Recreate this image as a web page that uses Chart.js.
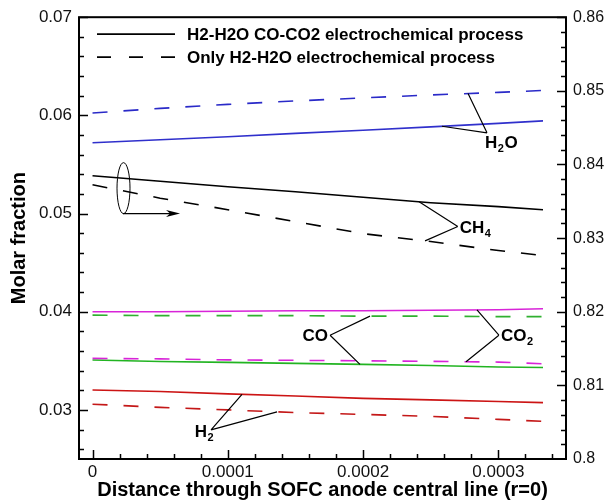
<!DOCTYPE html>
<html>
<head>
<meta charset="utf-8">
<script src="https://cdn.jsdelivr.net/npm/chart.js@4.4.0/dist/chart.umd.min.js"></script>
<style>
  html, body { margin: 0; padding: 0; background: #fff; }
</style>
</head>
<body>
<canvas id="molarChart" width="608" height="504"></canvas>
<script>
// distance through the anode central line (m)
const distance = [0, 0.00005, 0.0001, 0.00015, 0.0002, 0.00025, 0.0003, 0.000333];

// solid = H2-H2O CO-CO2 process, dashed = only H2-H2O process
const h2oSolid = [0.05721, 0.05751, 0.05782, 0.05817, 0.05848, 0.05883, 0.05919, 0.05944];
const h2oDash  = [0.06025, 0.06071, 0.06112, 0.06147, 0.06178, 0.06208, 0.06234, 0.06254];
// CH4 is read on the right axis
const ch4Solid = [0.83846, 0.83772, 0.83697, 0.83630, 0.83555, 0.83481, 0.83427, 0.83386];
const ch4Dash  = [0.83724, 0.83542, 0.83386, 0.83223, 0.83061, 0.82953, 0.82831, 0.82763];
const co2Solid = [0.04000, 0.04000, 0.04005, 0.04010, 0.04010, 0.04015, 0.04020, 0.04030];
const co2Dash  = [0.03525, 0.03520, 0.03510, 0.03505, 0.03500, 0.03495, 0.03487, 0.03470];
const coSolid  = [0.03508, 0.03493, 0.03484, 0.03474, 0.03464, 0.03452, 0.03437, 0.03432];
const coDash   = [0.03965, 0.03960, 0.03960, 0.03960, 0.03955, 0.03955, 0.03950, 0.03950];
const h2Solid  = [0.03203, 0.03188, 0.03163, 0.03142, 0.03117, 0.03102, 0.03086, 0.03074];
const h2Dash   = [0.03058, 0.03026, 0.03000, 0.02973, 0.02954, 0.02934, 0.02904, 0.02883];

// ticks
const xTicks = [0, 0.0001, 0.0002, 0.0003];
const xTickLabels = ['0', '0.0001', '0.0002', '0.0003'];
const leftTicks = [0.03, 0.04, 0.05, 0.06, 0.07];
const leftTickLabels = ['0.03', '0.04', '0.05', '0.06', '0.07'];
const rightTicks = [0.80, 0.81, 0.82, 0.83, 0.84, 0.85, 0.86];
const rightTickLabels = ['0.8', '0.81', '0.82', '0.83', '0.84', '0.85', '0.86'];

const legendLabels = ['H2-H2O CO-CO2 electrochemical process', 'Only H2-H2O electrochemical process'];

const DASH = [15, 16];

function series(label, values, color, dashed, axis) {
    return {
        label: label,
        data: distance.map((x, i) => ({ x: x, y: values[i] })),
        borderColor: color,
        borderWidth: 1.6,
        borderDash: dashed ? DASH : [],
        pointRadius: 0,
        tension: 0,
        yAxisID: axis || 'y'
    };
}

function interp(values, xv) {
    for (let i = 0; i < distance.length - 1; i++) {
        if (xv >= distance[i] && xv <= distance[i + 1]) {
            let t = (xv - distance[i]) / (distance[i + 1] - distance[i]);
            return values[i] + t * (values[i + 1] - values[i]);
        }
    }
    return values[values.length - 1];
}

// callout labels: vertex in data units (left axis), leader lines to the curves
const callouts = [
    { parts: [['H', 0], ['2', 1], ['O', 0]], vx: 0.0002916, vy: 0.05822, align: 'left', dx: -2, dy: 15,
      ends: [[h2oDash, 0.0002776, 'y'], [h2oSolid, 0.0002583, 'y']] },
    { parts: [['CH', 0], ['4', 1]], vx: 0.000270, vy: 0.04868, align: 'left', dx: 2, dy: 6,
      ends: [[ch4Solid, 0.0002414, 'y2'], [ch4Dash, 0.0002458, 'y2']] },
    { parts: [['CO', 0]], vx: 0.0001756, vy: 0.03761, align: 'right', dx: -2, dy: 6,
      ends: [[coDash, 0.0002051, 'y'], [coSolid, 0.0001977, 'y']] },
    { parts: [['CO', 0], ['2', 1]], vx: 0.0003004, vy: 0.03761, align: 'left', dx: 2, dy: 6,
      ends: [[co2Solid, 0.0002842, 'y'], [co2Dash, 0.0002761, 'y']] },
    { parts: [['H', 0], ['2', 1]], vx: 0.0000876, vy: 0.02797, align: 'right', dx: 3, dy: 7,
      ends: [[h2Solid, 0.0001105, 'y'], [h2Dash, 0.0001364, 'y']] }
];

const MAIN_FONT = 'bold 17px "Liberation Sans", Arial, sans-serif';
const SUB_FONT = 'bold 11px "Liberation Sans", Arial, sans-serif';

function drawParts(ctx, parts, x, y, align) {
    let widths = parts.map(p => { ctx.font = p[1] ? SUB_FONT : MAIN_FONT; return ctx.measureText(p[0]).width + (p[1] ? 1 : 0); });
    let total = widths.reduce((a, b) => a + b, 0);
    let cx = align === 'right' ? x - total : x;
    ctx.textAlign = 'left';
    ctx.textBaseline = 'alphabetic';
    parts.forEach((p, i) => {
        ctx.font = p[1] ? SUB_FONT : MAIN_FONT;
        ctx.fillText(p[0], cx + (p[1] ? 0.5 : 0), p[1] ? y + 4 : y);
        cx += widths[i];
    });
}

const decorations = {
    id: 'decorations',
    afterDraw(chart) {
        const { ctx, chartArea: a, scales } = chart;
        const x = scales.x, y = scales.y, y2 = scales.y2;
        ctx.save();

        // frame
        ctx.strokeStyle = '#000';
        ctx.lineWidth = 2;
        ctx.strokeRect(a.left, a.top, a.right - a.left, a.bottom - a.top);

        // inward ticks
        ctx.lineWidth = 1.5;
        ctx.beginPath();
        for (let v = 0.026; v < 0.0705; v += 0.002) {
            let major = leftTicks.some(t => Math.abs(t - v) < 1e-6);
            let py = Math.round(y.getPixelForValue(v)) + 0.5;
            ctx.moveTo(a.left, py); ctx.lineTo(a.left + (major ? 9 : 5), py);
        }
        for (let v = 0.802; v < 0.8605; v += 0.002) {
            let major = rightTicks.some(t => Math.abs(t - v) < 1e-6);
            let py = Math.round(y2.getPixelForValue(v)) + 0.5;
            ctx.moveTo(a.right, py); ctx.lineTo(a.right - (major ? 9 : 5), py);
        }
        for (let v = 0; v < 0.000345; v += 0.00002) {
            let major = xTicks.some(t => Math.abs(t - v) < 1e-9);
            let px = Math.round(x.getPixelForValue(v)) + 0.5;
            ctx.moveTo(px, a.bottom); ctx.lineTo(px, a.bottom - (major ? 9 : 5));
        }
        ctx.stroke();

        // legend
        ctx.lineWidth = 1.8;
        ctx.beginPath();
        ctx.setLineDash([]);
        ctx.moveTo(a.left + 18, a.top + 17); ctx.lineTo(a.left + 96, a.top + 17);
        ctx.stroke();
        ctx.beginPath();
        ctx.setLineDash([14, 18]);
        ctx.moveTo(a.left + 18, a.top + 40); ctx.lineTo(a.left + 96, a.top + 40);
        ctx.stroke();
        ctx.setLineDash([]);
        ctx.fillStyle = '#000';
        ctx.font = MAIN_FONT;
        ctx.textAlign = 'left';
        ctx.textBaseline = 'alphabetic';
        ctx.fillText(legendLabels[0], a.left + 108, a.top + 23);
        ctx.fillText(legendLabels[1], a.left + 108, a.top + 46);

        // callouts
        ctx.lineWidth = 1.2;
        callouts.forEach(c => {
            let vx = x.getPixelForValue(c.vx), vy = y.getPixelForValue(c.vy);
            ctx.beginPath();
            c.ends.forEach(e => {
                let sc = scales[e[2]];
                ctx.moveTo(vx, vy);
                ctx.lineTo(x.getPixelForValue(e[1]), sc.getPixelForValue(interp(e[0], e[1])));
            });
            ctx.stroke();
            drawParts(ctx, c.parts, vx + c.dx, vy + c.dy, c.align);
        });

        // ellipse + arrow: CH4 belongs to the right axis
        let ex = x.getPixelForValue(0.0000229), ey = y.getPixelForValue(0.05259);
        ctx.lineWidth = 1;
        ctx.beginPath();
        ctx.ellipse(ex, ey, 6.5, 25.5, 0, 0, Math.PI * 2);
        ctx.stroke();
        let ay = y.getPixelForValue(0.05);
        let ax0 = x.getPixelForValue(0.0000225), ax1 = x.getPixelForValue(0.0000647);
        ctx.lineWidth = 1.3;
        ctx.beginPath();
        ctx.moveTo(ax0, ay); ctx.lineTo(ax1 - 6, ay);
        ctx.stroke();
        ctx.beginPath();
        ctx.moveTo(ax1, ay);
        ctx.lineTo(ax1 - 14, ay - 3.5);
        ctx.lineTo(ax1 - 10, ay);
        ctx.lineTo(ax1 - 14, ay + 3.5);
        ctx.closePath();
        ctx.fill();

        ctx.restore();
    }
};

const tickFont = { family: '"Liberation Sans", Arial, sans-serif', size: 17 };

new Chart(document.getElementById('molarChart').getContext('2d'), {
    type: 'line',
    data: {
        datasets: [
            series('H2O', h2oSolid, '#3030cc', false),
            series('H2O only', h2oDash, '#2a2ac8', true),
            series('CH4', ch4Solid, '#000000', false, 'y2'),
            series('CH4 only', ch4Dash, '#000000', true, 'y2'),
            series('CO2', co2Solid, '#d824d8', false),
            series('CO2 only', co2Dash, '#d824d8', true),
            series('CO', coSolid, '#22b422', false),
            series('CO only', coDash, '#30b030', true),
            series('H2', h2Solid, '#cc1414', false),
            series('H2 only', h2Dash, '#c41818', true)
        ]
    },
    options: {
        responsive: false,
        animation: false,
        layout: { padding: { top: 16, left: 0, right: 0, bottom: 0 } },
        plugins: { legend: { display: false }, tooltip: { enabled: false } },
        scales: {
            x: {
                type: 'linear',
                min: -0.00001,
                max: 0.00035,
                afterBuildTicks: s => { s.ticks = xTicks.map(v => ({ value: v })); },
                afterFit: s => { s.height = 45; },
                grid: { display: false, drawTicks: false },
                border: { display: false },
                ticks: {
                    callback: (v, i) => xTickLabels[i],
                    font: tickFont, color: '#111', padding: 3,
                    maxRotation: 0, autoSkip: false
                },
                title: {
                    display: true,
                    text: 'Distance through SOFC anode central line (r=0)',
                    color: '#000',
                    font: { family: '"Liberation Sans", Arial, sans-serif', size: 20, weight: 'bold' },
                    padding: { top: 0, bottom: 2 }
                }
            },
            y: {
                position: 'left',
                min: 0.025,
                max: 0.07,
                afterBuildTicks: s => { s.ticks = leftTicks.map(v => ({ value: v })); },
                afterFit: s => { s.width = 79; },
                grid: { display: false, drawTicks: false },
                border: { display: false },
                ticks: {
                    callback: (v, i) => leftTickLabels[i],
                    font: tickFont, color: '#111', padding: 7
                },
                title: {
                    display: true,
                    text: 'Molar fraction',
                    color: '#000',
                    font: { family: '"Liberation Sans", Arial, sans-serif', size: 20, weight: 'bold' },
                    padding: { top: 7, bottom: 0 }
                }
            },
            y2: {
                position: 'right',
                min: 0.8,
                max: 0.86,
                afterBuildTicks: s => { s.ticks = rightTicks.map(v => ({ value: v })); },
                afterFit: s => { s.width = 42; },
                grid: { display: false, drawTicks: false },
                border: { display: false },
                ticks: {
                    callback: (v, i) => rightTickLabels[i],
                    font: { family: '"Liberation Sans", Arial, sans-serif', size: 16 },
                    color: '#111', padding: 7
                }
            }
        }
    },
    plugins: [decorations]
});
</script>
</body>
</html>
